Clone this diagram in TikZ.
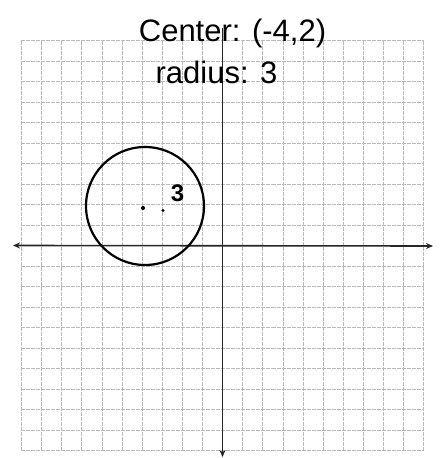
\documentclass[tikz,border=0pt]{standalone}
\usepackage{fontspec}
\setmainfont{Liberation Sans}
\usetikzlibrary{arrows.meta}
\begin{document}
\begin{tikzpicture}[x=20.1pt,y=20.5pt,
  gridline/.style={draw=gray!55, line width=0.6pt, dash pattern=on 4pt off 1pt},
  axisline/.style={draw=black!85, line width=1.6pt},
  curve/.style={draw=black, line width=2.2pt},
  label/.style={font=\fontsize{31}{33}\selectfont, inner sep=0pt}]
\useasboundingbox (-222.5pt,-212.5pt) rectangle (218.5pt,245.5pt);
\fill[white] (-222.5pt,-212.5pt) rectangle (218.5pt,245.5pt);
% grid
\foreach \i in {-10,...,10} {
  \draw[gridline] (\i,-10) -- (\i,10);
  \draw[gridline] (-10,\i) -- (10,\i);
}
% axes
\coordinate (xl) at (-209.5pt,0pt);
\coordinate (xr) at (210.5pt,-0.5pt);
\coordinate (yt) at (0pt,217pt);
\coordinate (yb) at (0pt,-211.5pt);
\draw[axisline,{Stealth[length=7pt,width=6pt]}-{Stealth[length=7pt,width=6pt]}] (xl) -- (xr);
\draw[axisline,-{Stealth[length=7pt,width=6pt]}] (yt) -- (yb);
% circle
\draw[curve] (-77.5pt,39.5pt) circle[radius=59pt];
\fill (-79.5pt,37.5pt) circle[radius=2pt];
\fill (-59.5pt,35pt) circle[radius=1.6pt];
\node[font=\fontsize{24}{26}\selectfont\bfseries, inner sep=0pt] (r3) at (-45pt,52pt) {3};
% text
\node[label] (center) at (10pt,212pt) {Center: (-4,2)};
\node[label] (radius) at (-6pt,173pt) {radius: 3};
\end{tikzpicture}
\end{document}
